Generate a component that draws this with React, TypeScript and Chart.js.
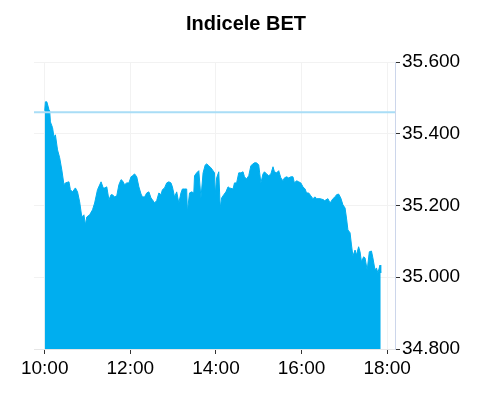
import React, { useEffect, useRef } from "react";
import { Chart, registerables } from "chart.js";

Chart.register(...registerables);

const title = "Indicele BET";

const times: string[] = [
  "10:00", "10:01", "10:03", "10:06", "10:07", "10:08", "10:11", "10:13", "10:15", "10:18",
  "10:21", "10:24", "10:27", "10:29", "10:34", "10:36", "10:39", "10:43", "10:46", "10:49",
  "10:52", "10:55", "10:57", "10:59", "11:03", "11:07", "11:10", "11:14", "11:19", "11:22",
  "11:24", "11:27", "11:30", "11:33", "11:35", "11:38", "11:41", "11:44", "11:47", "11:49",
  "11:52", "11:55", "11:58", "12:01", "12:03", "12:06", "12:09", "12:12", "12:15", "12:17",
  "12:20", "12:23", "12:26", "12:29", "12:31", "12:34", "12:37", "12:40", "12:43", "12:45",
  "12:48", "12:51", "12:54", "12:57", "12:59", "13:02", "13:05", "13:08", "13:11", "13:13",
  "13:16", "13:19", "13:20", "13:23", "13:26", "13:29", "13:30", "13:33", "13:36", "13:39",
  "13:42", "13:45", "13:47", "13:50", "13:53", "13:56", "13:58", "13:59", "14:01", "14:04",
  "14:06", "14:08", "14:11", "14:14", "14:17", "14:19", "14:24", "14:26", "14:29", "14:32",
  "14:35", "14:38", "14:40", "14:43", "14:46", "14:49", "14:52", "14:54", "14:57", "15:00",
  "15:03", "15:06", "15:08", "15:11", "15:14", "15:17", "15:20", "15:22", "15:25", "15:28",
  "15:31", "15:34", "15:36", "15:39", "15:42", "15:45", "15:48", "15:50", "15:53", "15:56",
  "15:59", "16:02", "16:05", "16:07", "16:10", "16:13", "16:16", "16:19", "16:21", "16:26",
  "16:31", "16:32", "16:37", "16:40", "16:44", "16:47", "16:49", "16:52", "16:55", "16:58",
  "17:01", "17:03", "17:05", "17:08", "17:10", "17:12", "17:15", "17:17", "17:20", "17:22",
  "17:24", "17:27", "17:29", "17:32", "17:35", "17:38", "17:40", "17:43", "17:45", "17:47",
  "17:50", "17:51",
];

const values: number[] = [
  35464, 35489, 35489, 35467, 35464, 35433, 35417, 35391, 35397, 35355,
  35333, 35299, 35258, 35263, 35266, 35244, 35238, 35249, 35238, 35210,
  35168, 35174, 35146, 35168, 35174, 35188, 35207, 35244, 35266, 35249,
  35249, 35252, 35216, 35230, 35230, 35224, 35227, 35258, 35272, 35269,
  35258, 35263, 35263, 35280, 35283, 35288, 35280, 35252, 35232, 35224,
  35224, 35235, 35238, 35221, 35216, 35207, 35214, 35235, 35230, 35244,
  35249, 35263, 35266, 35263, 35252, 35224, 35238, 35207, 35235, 35246,
  35246, 35246, 35182, 35235, 35238, 35235, 35283, 35291, 35297, 35221,
  35291, 35313, 35316, 35311, 35305, 35297, 35291, 35230, 35277, 35294,
  35193, 35221, 35230, 35238, 35252, 35249, 35246, 35263, 35263, 35291,
  35291, 35294, 35280, 35274, 35283, 35311, 35316, 35319, 35319, 35313,
  35263, 35288, 35294, 35288, 35283, 35288, 35308, 35294, 35291, 35297,
  35277, 35269, 35277, 35280, 35277, 35280, 35280, 35263, 35269, 35266,
  35263, 35252, 35246, 35235, 35235, 35227, 35219, 35224, 35219, 35219,
  35216, 35213, 35219, 35207, 35219, 35224, 35230, 35232, 35221, 35202,
  35193, 35165, 35132, 35124, 35090, 35059, 35076, 35062, 35085, 35071,
  35043, 35057, 35054, 35020, 35071, 35073, 35054, 35020, 35026, 35012,
  35034, 35012,
];

const previousClose = 35460;

const xTickLabels: string[] = ["10:00", "12:00", "14:00", "16:00", "18:00"];
const xRange: string[] = ["09:45", "18:11"];
const yTicks: number[] = [34800, 35000, 35200, 35400, 35600];

const toMin = (s: string) => {
  const [h, m] = s.split(":").map(Number);
  return h * 60 + m;
};
const fmtTime = (v: number) => {
  const h = Math.floor(v / 60);
  const m = Math.round(v - h * 60);
  return `${String(h).padStart(2, "0")}:${String(m).padStart(2, "0")}`;
};
const fmtNum = (v: number) =>
  Math.round(v)
    .toString()
    .replace(/\B(?=(\d{3})+(?!\d))/g, ".");

const FONT = "Arial, 'Liberation Sans', sans-serif";

export default function App() {
  const ref = useRef<HTMLCanvasElement | null>(null);

  useEffect(() => {
    if (!ref.current) return;
    const xMin = toMin(xRange[0]);
    const xMax = toMin(xRange[1]);
    const chart = new Chart(ref.current, {
      type: "line",
      data: {
        datasets: [
          {
            data: [
              { x: xMin, y: previousClose },
              { x: xMax, y: previousClose },
            ],
            borderColor: "#a9ddf6",
            borderWidth: 2,
            pointRadius: 0,
            fill: false,
            order: 0,
          },
          {
            data: times.map((t, i) => ({ x: toMin(t), y: values[i] })),
            borderColor: "#00aeef",
            backgroundColor: "#00aeef",
            borderWidth: 1,
            pointRadius: 0,
            tension: 0,
            fill: "start",
            order: 1,
          },
        ],
      },
      options: {
        animation: false,
        responsive: true,
        maintainAspectRatio: false,
        layout: { padding: 0 },
        plugins: {
          legend: { display: false },
          tooltip: { enabled: false },
          title: {
            display: true,
            text: title,
            color: "#000",
            font: { family: FONT, size: 20, weight: "bold" },
            padding: { top: 12, bottom: 26 },
          },
        },
        scales: {
          x: {
            type: "linear",
            min: xMin,
            max: xMax,
            afterBuildTicks: (scale: any) => {
              scale.ticks = xTickLabels.map((s) => ({ value: toMin(s) }));
            },
            afterFit: (scale: any) => {
              scale.height = 51;
            },
            ticks: {
              autoSkip: false,
              maxRotation: 0,
              color: "#000",
              padding: 3,
              font: { family: FONT, size: 19 },
              callback: (v: any) => fmtTime(Number(v)),
            },
            grid: {
              color: "#f2f2f2",
              tickColor: "#333",
              tickLength: 5,
              lineWidth: 1,
            },
            border: { color: "#e6e6e6" },
          },
          yLeft: {
            position: "left",
            display: true,
            min: yTicks[0],
            max: yTicks[yTicks.length - 1],
            afterFit: (scale: any) => {
              scale.width = 34;
            },
            ticks: { display: false },
            grid: { display: false, drawTicks: false },
            border: { display: false },
          },
          y: {
            position: "right",
            min: yTicks[0],
            max: yTicks[yTicks.length - 1],
            afterBuildTicks: (scale: any) => {
              scale.ticks = yTicks.map((v) => ({ value: v }));
            },
            afterFit: (scale: any) => {
              scale.width = 97;
            },
            ticks: {
              color: "#000",
              padding: 2,
              font: { family: FONT, size: 19 },
              callback: (v: any) => fmtNum(Number(v)),
            },
            grid: {
              color: "#f2f2f2",
              tickColor: "#333",
              tickLength: 5,
            },
            border: { color: "#ccd6eb" },
          },
        },
      },
    });
    return () => chart.destroy();
  }, []);

  return (
    <div style={{ position: "fixed", left: 0, top: 0, width: 492, height: 400, background: "#fff" }}>
      <canvas ref={ref} />
    </div>
  );
}
